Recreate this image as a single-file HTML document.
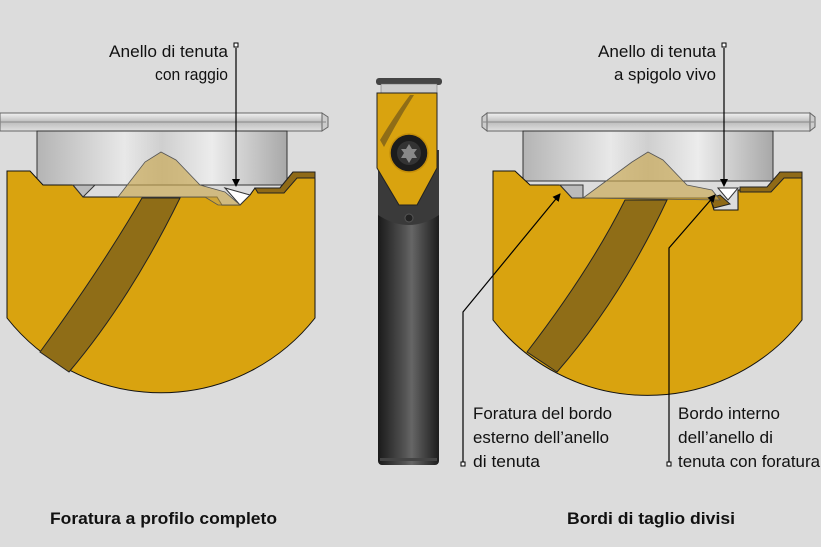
<!DOCTYPE html>
<html><head><meta charset="utf-8"><style>
html,body{margin:0;padding:0;background:#dcdcdc}
svg{display:block}
text{font-family:"Liberation Sans",sans-serif;font-size:17px;fill:#111}
</style></head><body>
<svg width="821" height="547" viewBox="0 0 821 547" xmlns="http://www.w3.org/2000/svg">
<defs>
<linearGradient id="met" x1="0" x2="1" y1="0" y2="0">
<stop offset="0" stop-color="#b4b4b4"/><stop offset="0.35" stop-color="#e8e8e8"/><stop offset="0.5" stop-color="#cfcfcf"/><stop offset="0.7" stop-color="#ececec"/><stop offset="1" stop-color="#a8a8a8"/></linearGradient>
<linearGradient id="disc" x1="0" x2="0" y1="0" y2="1">
<stop offset="0" stop-color="#f2f2f2"/><stop offset="0.5" stop-color="#bdbdbd"/><stop offset="1" stop-color="#e0e0e0"/></linearGradient>
<linearGradient id="shaft" x1="0" x2="1" y1="0" y2="0">
<stop offset="0" stop-color="#1a1a1a"/><stop offset="0.45" stop-color="#555"/><stop offset="0.55" stop-color="#666"/><stop offset="1" stop-color="#1c1c1c"/></linearGradient>
<marker id="ah" markerWidth="8" markerHeight="8" refX="7" refY="4" orient="auto" markerUnits="userSpaceOnUse" viewBox="0 0 8 8"><path d="M0,0 L8,4 L0,8 z" fill="#000"/></marker>
</defs>
<rect width="821" height="547" fill="#dcdcdc"/>

<!-- LEFT -->
<rect x="0" y="113" width="322" height="18" fill="url(#disc)" stroke="#666" stroke-width="1"/>
<path d="M322,113 L328,117 L328,127 L322,131 z" fill="#ccc" stroke="#666"/>
<line x1="0" y1="122" x2="326" y2="122" stroke="#888"/>
<rect x="37" y="131" width="250" height="54" fill="url(#met)" stroke="#333"/>
<path d="M7,171 L30,171 L43,185 L73,185 L83,197 L217,197 L222,205 L240,205 L250,195 L255,188 L280,188 L293,172 L315,172 L315,318 A196,196 0 0 1 7,318 z" fill="#d9a30f" stroke="#111" stroke-width="1"/>
<path d="M73,185 L83,197 L95,185 z" fill="#bbb" stroke="#333"/>
<path d="M255,188 L280,188 L293,172 L315,172 L315,178 L297,178 L284,193 L258,193 z" fill="#8f6a17" stroke="#222"/>
<path d="M225,188 L240,205 L250,195 z" fill="#fff" stroke="#333"/>
<path d="M40,352 Q100,270 142,198 L180,198 Q130,300 69,372 z" fill="#8f6d17" stroke="#222"/>
<path d="M161,152 L176,160 L200,185 L225,192 L240,205 L218,205 L205,197 L118,197 L145,162 z" fill="#c9a850" fill-opacity="0.65" stroke="#555" stroke-width="0.8"/>
<line x1="236" y1="48" x2="236" y2="186" stroke="#000" stroke-width="1.2" marker-end="url(#ah)"/>
<rect x="234" y="43" width="4" height="4" fill="#fff" stroke="#000"/>
<text x="228" y="57" text-anchor="end" textLength="119" lengthAdjust="spacingAndGlyphs">Anello di tenuta</text>
<text x="228" y="80" text-anchor="end" textLength="73" lengthAdjust="spacingAndGlyphs">con raggio</text>
<text x="50" y="524" style="font-weight:bold" textLength="227" lengthAdjust="spacingAndGlyphs">Foratura a profilo completo</text>

<!-- CENTER TOOL -->
<rect x="378" y="160" width="61" height="305" rx="4" fill="url(#shaft)"/>
<rect x="380" y="458" width="57" height="3" fill="#444"/>
<path d="M378,150 L439,150 L439,215 Q409,235 378,215 z" fill="#3a3a3a"/>
<rect x="376" y="78" width="66" height="7" rx="3" fill="#444"/>
<rect x="381" y="84" width="56" height="9" fill="#ccc" stroke="#666" stroke-width="0.5"/>
<path d="M377,93 L437,93 L437,168 L417,205 L399,205 L377,168 z" fill="#d9a30f" stroke="#222"/>
<path d="M380,140 Q395,115 410,95 L414,95 Q398,120 384,147 z" fill="#8f6d17"/>
<circle cx="409" cy="153" r="19" fill="#1c1c1c" stroke="#c48e0a" stroke-width="1.5"/>
<circle cx="409" cy="153" r="12" fill="#333"/>
<path d="M409,144 L412,149 L417,149 L414,153 L417,158 L412,158 L409,163 L406,158 L401,158 L404,153 L401,149 L406,149 z" fill="#888"/>
<circle cx="409" cy="218" r="4" fill="#222" stroke="#555"/>

<!-- RIGHT -->
<rect x="487" y="113" width="323" height="18" fill="url(#disc)" stroke="#666"/>
<path d="M487,113 L482,117 L482,127 L487,131 z M810,113 L815,117 L815,127 L810,131 z" fill="#ccc" stroke="#666"/>
<line x1="483" y1="122" x2="814" y2="122" stroke="#888"/>
<rect x="523" y="131" width="250" height="50" fill="url(#met)" stroke="#333"/>
<path d="M493,171 L515,171 L530,185 L560,185 L572,198 L710,198 L714,210 L738,210 L738,190 L767,190 L780,172 L802,172 L802,320 A196,196 0 0 1 493,320 z" fill="#d9a30f" stroke="#111"/>
<path d="M560,185 L572,198 L583,198 L583,185 z" fill="#bbb" stroke="#333"/>
<path d="M740,187 L767,187 L780,172 L802,172 L802,178 L784,178 L771,192 L740,192 z" fill="#8f6a17" stroke="#222"/>
<path d="M718,188 L728,200 L738,188 z" fill="#fff" stroke="#333"/>
<path d="M710,198 L714,208 L730,204 L720,195 z" fill="#8f6a17" stroke="#222"/>
<path d="M527,352 Q590,270 625,200 L667,200 Q620,300 557,372 z" fill="#8f6d17" stroke="#222"/>
<path d="M648,152 L663,160 L687,185 L712,190 L720,200 L583,198 L632,162 z" fill="#c9a850" fill-opacity="0.65" stroke="#555" stroke-width="0.8"/>
<line x1="724" y1="48" x2="724" y2="186" stroke="#000" stroke-width="1.2" marker-end="url(#ah)"/>
<rect x="722" y="43" width="4" height="4" fill="#fff" stroke="#000"/>
<text x="716" y="57" text-anchor="end" textLength="118" lengthAdjust="spacingAndGlyphs">Anello di tenuta</text>
<text x="716" y="80" text-anchor="end" textLength="102" lengthAdjust="spacingAndGlyphs">a spigolo vivo</text>

<polyline points="463,463 463,312 560,194" fill="none" stroke="#000" stroke-width="1.2" marker-end="url(#ah)"/>
<rect x="461" y="462" width="4" height="4" fill="#fff" stroke="#000"/>
<polyline points="669,463 669,248 715,195" fill="none" stroke="#000" stroke-width="1.2" marker-end="url(#ah)"/>
<rect x="667" y="462" width="4" height="4" fill="#fff" stroke="#000"/>

<text x="473" y="419" textLength="139" lengthAdjust="spacingAndGlyphs">Foratura del bordo</text>
<text x="473" y="443" textLength="136" lengthAdjust="spacingAndGlyphs">esterno dell’anello</text>
<text x="473" y="467" textLength="67" lengthAdjust="spacingAndGlyphs">di tenuta</text>
<text x="678" y="419" textLength="102" lengthAdjust="spacingAndGlyphs">Bordo interno</text>
<text x="678" y="443" textLength="95" lengthAdjust="spacingAndGlyphs">dell’anello di</text>
<text x="678" y="467" textLength="142" lengthAdjust="spacingAndGlyphs">tenuta con foratura</text>
<text x="567" y="524" style="font-weight:bold" textLength="168" lengthAdjust="spacingAndGlyphs">Bordi di taglio divisi</text>
</svg>
</body></html>
